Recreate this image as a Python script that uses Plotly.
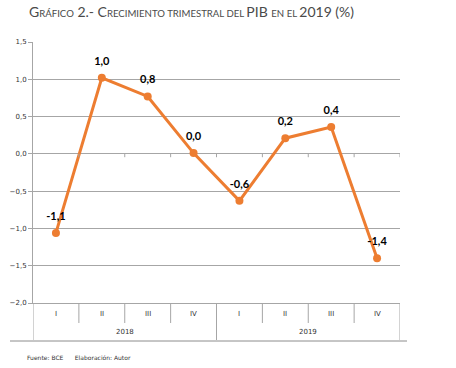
import plotly.graph_objects as go

years = ["2018"] * 4 + ["2019"] * 4
quarters = ["I", "II", "III", "IV"] * 2
growth = [-1.06, 1.02, 0.77, 0.01, -0.63, 0.21, 0.36, -1.40]
y_ticks = [1.5, 1.0, 0.5, 0.0, -0.5, -1.0, -1.5, -2.0]

ORANGE = "#ED7D31"
GRID = "#A6A6A6"
TXT = "#333333"

cats = [f"{y}-{q}" for y, q in zip(years, quarters)]
labels = [f"{v:.1f}".replace(".", ",") for v in growth]

PLOT_H = 261  # plot area height in px (used to convert px offsets to paper units)

fig = go.Figure()
fig.add_trace(go.Scatter(
    x=cats, y=growth,
    mode="lines+markers",
    line=dict(color=ORANGE, width=3),
    marker=dict(color=ORANGE, size=8),
    cliponaxis=False, hoverinfo="skip",
))
# data labels (transparent larger markers only to set the label offset)
fig.add_trace(go.Scatter(
    x=cats, y=growth,
    mode="markers+text",
    marker=dict(color="rgba(0,0,0,0)", size=15),
    text=labels, textposition="top center",
    textfont=dict(family="Lato", size=11, color="#000000", weight="bold"),
    cliponaxis=False, hoverinfo="skip",
))

def sc(s):
    return f"<span style='font-size:9.6px'>{s}</span>"

title = ("G" + sc("RÁFICO") + " 2.- C" + sc("RECIMIENTO TRIMESTRAL DEL ")
         + "PIB " + sc("EN EL ") + "2019 (%)")

fig.update_layout(
    width=456, height=368,
    margin=dict(l=33, r=56, t=42, b=65),
    paper_bgcolor="white", plot_bgcolor="white",
    separators=", ",
    showlegend=False,
    title=dict(text=title, x=29 / 456, xref="container", xanchor="left",
               y=1 - 12 / 368, yref="container", yanchor="middle",
               font=dict(family="Lato", size=14, color="#4a4a4a")),
    xaxis=dict(
        type="category", range=[-0.5, len(cats) - 0.5], automargin=False,
        showline=True, linecolor=GRID, linewidth=1,
        ticks="", showticklabels=False, showgrid=False, zeroline=False,
    ),
    yaxis=dict(
        range=[-2.0, 1.5], tickvals=y_ticks, tickformat=".1f", automargin=False,
        showline=True, linecolor=GRID, linewidth=1,
        ticks="outside", ticklen=4, tickcolor=GRID,
        showgrid=True, gridcolor=GRID, gridwidth=1,
        zeroline=True, zerolinecolor=GRID, zerolinewidth=1,
        tickfont=dict(family="DejaVu Sans", size=7, color=TXT),
    ),
)

# category table below the plot: separators
n = len(cats)
for b in range(n + 1):
    is_year_edge = b == 0 or b == n or years[b] != years[b - 1]
    fig.add_shape(type="line", xref="x", yref="paper",
                  x0=b - 0.5, x1=b - 0.5, y0=0,
                  y1=-(37 if is_year_edge else 20) / PLOT_H,
                  line=dict(color=GRID, width=1))
    if b > 0:
        # small tick marks on the zero line
        fig.add_shape(type="line", xref="x", yref="y",
                      x0=b - 0.5, x1=b - 0.5, y0=0, y1=-0.045,
                      line=dict(color=GRID, width=1))

# quarter labels
for c, q in zip(cats, quarters):
    fig.add_annotation(text=q, x=c, xref="x", y=-11 / PLOT_H, yref="paper",
                       showarrow=False, xanchor="center", yanchor="middle",
                       font=dict(family="DejaVu Sans", size=7, color=TXT))
# year labels
for yr in sorted(set(years)):
    idx = [i for i, y in enumerate(years) if y == yr]
    fig.add_annotation(text=yr, x=sum(idx) / len(idx), xref="x",
                       y=-29 / PLOT_H, yref="paper",
                       showarrow=False, xanchor="center", yanchor="middle",
                       font=dict(family="DejaVu Sans", size=7, color=TXT))

fig.add_shape(type="line", xref="paper", yref="paper",
              x0=-23 / 367, x1=374 / 367, y0=-38 / PLOT_H, y1=-38 / PLOT_H,
              line=dict(color="#8C8C8C", width=1))
fig.add_annotation(text="Fuente: BCE&nbsp;&nbsp;&nbsp;&nbsp;&nbsp; Elaboración: Autor",
                   xref="paper", yref="paper", x=-8 / 367, y=-54 / PLOT_H,
                   xanchor="left", yanchor="middle", showarrow=False,
                   font=dict(family="DejaVu Sans", size=6, color=TXT))

fig.write_html("out.html", config={"displayModeBar": False, "staticPlot": True},
               post_script="document.body.style.margin='0px';")
